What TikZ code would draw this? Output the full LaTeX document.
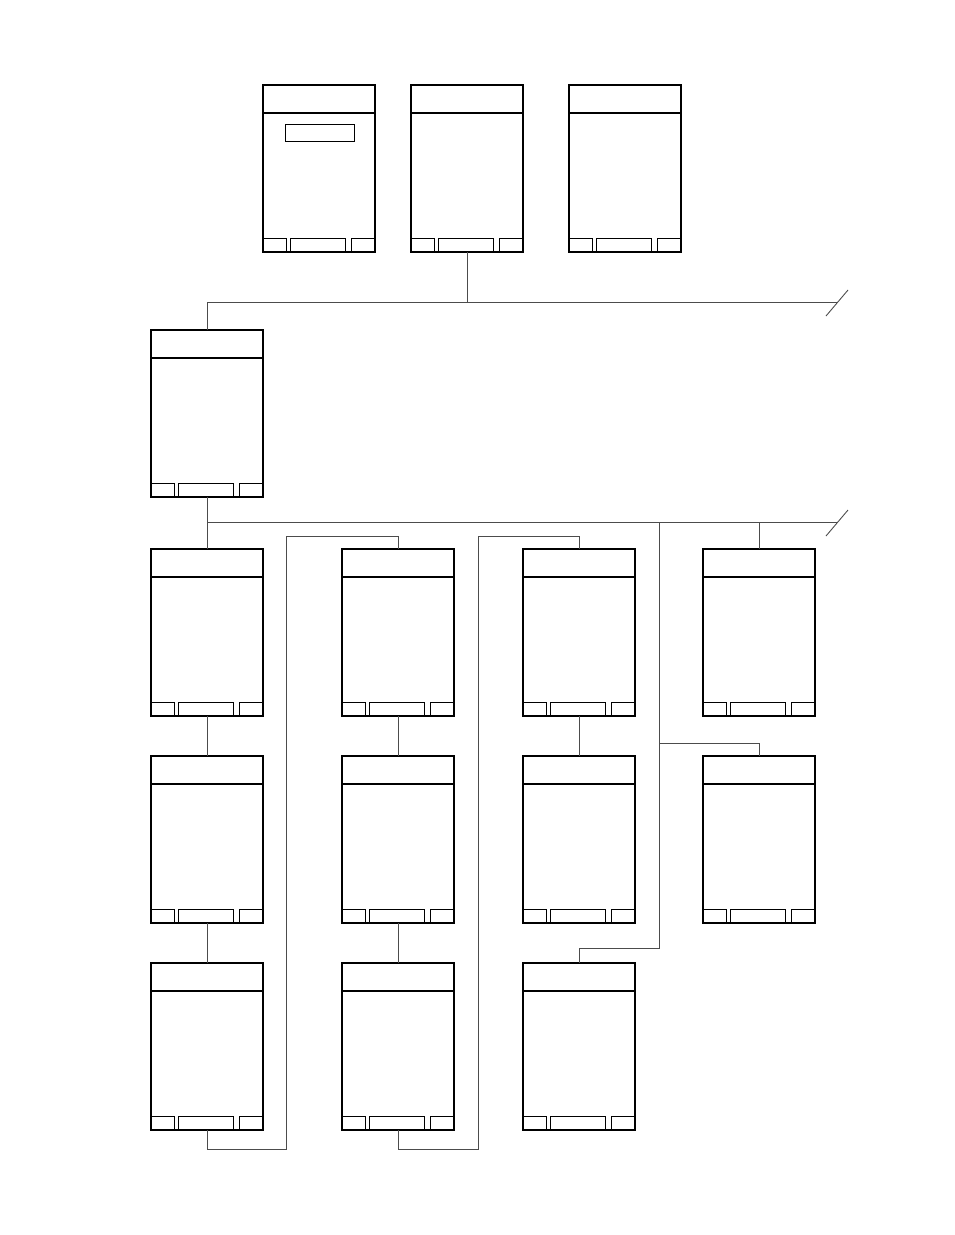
\documentclass[tikz,border=0pt]{standalone}
\usepackage{tikz}
\usetikzlibrary{positioning}

\begin{document}
\begin{tikzpicture}[
  x=1pt, y=-1pt,
  phone/.style={draw, line width=1.3pt, minimum width=112pt,
                minimum height=167pt, inner sep=0pt, outer sep=0pt},
  keybox/.style={draw, line width=0.9pt},
  wire/.style={draw=black!70, line width=0.9pt}
]
\useasboundingbox (0,0) rectangle (954,1235);

% top row of screens
\node[phone] (t2) at (467,168.5) {};
\node[phone, left=36pt of t2] (t1) {};
\node[phone, right=46pt of t2] (t3) {};
\node[draw, line width=1.2pt, minimum width=69pt, minimum height=17pt,
      inner sep=0pt] (field) at (320,133) {};

% menu screen
\node[phone] (menu) at (207,413.5) {};

% lower grid
\node[phone, below=52pt of menu] (a1) {};
\node[phone, below=40pt of a1] (a2) {};
\node[phone, below=40pt of a2] (a3) {};
\node[phone, right=79pt of a1] (b1) {};
\node[phone, below=40pt of b1] (b2) {};
\node[phone, below=40pt of b2] (b3) {};
\node[phone, right=69pt of b1] (c1) {};
\node[phone, below=40pt of c1] (c2) {};
\node[phone, below=40pt of c2] (c3) {};
\node[phone, right=68pt of c1] (d1) {};
\node[phone, below=40pt of d1] (d2) {};

% title bar and soft keys
\foreach \s in {t1,t2,t3,menu,a1,a2,a3,b1,b2,b3,c1,c2,c3,d1,d2}{
  \draw[line width=1.3pt] ([yshift=-28pt]\s.north west) -- ([yshift=-28pt]\s.north east);
  \draw[keybox] (\s.south west) rectangle ([xshift=23pt,yshift=14pt]\s.south west);
  \draw[keybox] ([xshift=27pt]\s.south west) rectangle ([xshift=82pt,yshift=14pt]\s.south west);
  \draw[keybox] ([xshift=-24pt,yshift=14pt]\s.south east) rectangle (\s.south east);
}

% buses
\coordinate (bus1) at (207,302);
\coordinate (bus1end) at (837,302);
\coordinate (bus2) at (207,522);
\coordinate (bus2end) at (837,522);
\coordinate (tap) at (659,522);
\coordinate (loopA) at (286,1149);
\coordinate (loopAtop) at (286,536);
\coordinate (loopB) at (478,1149);
\coordinate (loopBtop) at (478,536);

\draw[wire] (t2.south) -- (t2.south |- bus1);
\draw[wire] (menu.north) -- (bus1) -- (bus1end);
\draw[wire] ([shift={(-11,14)}]bus1end) -- ++(22,-26);

\draw[wire] (menu.south) -- (bus2) -- (bus2end);
\draw[wire] ([shift={(-11,14)}]bus2end) -- ++(22,-26);
\draw[wire] (bus2) -- (a1.north);
\draw[wire] (d1.north) -- (d1.north |- bus2);
\draw[wire] (tap) -- (659,948) -| (c3.north);
\draw[wire] (659,743) -| (d2.north);

% columns
\draw[wire] (a1.south) -- (a2.north);
\draw[wire] (a2.south) -- (a3.north);
\draw[wire] (b1.south) -- (b2.north);
\draw[wire] (b2.south) -- (b3.north);
\draw[wire] (c1.south) -- (c2.north);

% return loops
\draw[wire] (a3.south) |- (loopA) -- (loopAtop) -| (b1.north);
\draw[wire] (b3.south) |- (loopB) -- (loopBtop) -| (c1.north);
\end{tikzpicture}
\end{document}
